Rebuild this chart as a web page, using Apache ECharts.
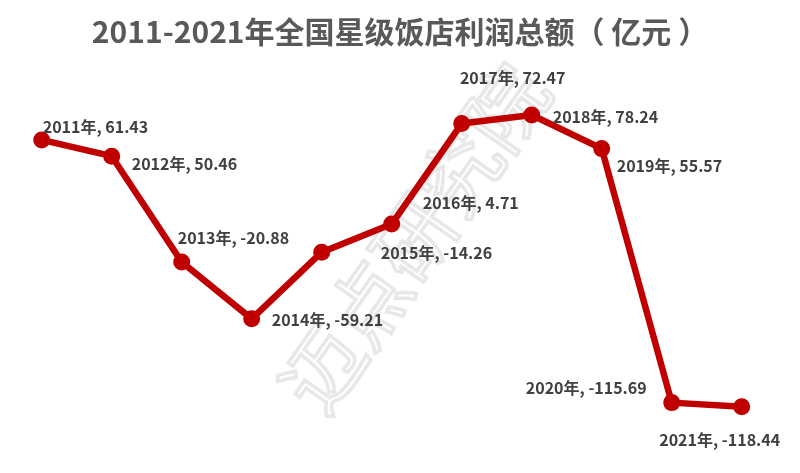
<!DOCTYPE html>
<html>
<head>
<meta charset="utf-8">
<script src="https://cdn.jsdelivr.net/npm/echarts@6/dist/echarts.min.js"></script>
<style>html,body{margin:0;padding:0;background:#fff;}#c{width:800px;height:473px;}</style>
</head>
<body>
<div id="c"></div>
<script>
const titleText = '2011-2021年全国星级饭店利润总额（ 亿元 ）';
const categories = ['2011年','2012年','2013年','2014年','2015年','2016年','2017年','2018年','2019年','2020年','2021年'];
const profits = [61.43, 50.46, -20.88, -59.21, -14.26, 4.71, 72.47, 78.24, 55.57, -115.69, -118.44];
// label placement: [align, dx, dy]
const labelPlacement = [
  ['left', 1, -13], ['left', 20, 8], ['left', -4, -24], ['left', 20, 1],
  ['left', 59, 1], ['left', 31, -21], ['center', 51, -46], ['left', 21, 2],
  ['left', 15, 17], ['right', -25, -15], ['center', -22, 33]
];

const chart = echarts.init(document.getElementById('c'), null, {renderer: 'canvas'});

chart.setOption({
  animation: false,
  backgroundColor: '#ffffff',
  title: {
    text: titleText,
    left: 'center',
    top: 12,
    textStyle: {
      fontFamily: 'Noto Sans CJK SC',
      fontSize: 30,
      fontWeight: 'bold',
      color: '#595959'
    }
  },
  graphic: [{
    type: 'text',
    x: 414, y: 238,
    rotation: 55 * Math.PI / 180,
    silent: true,
    z: -10,
    style: {
      text: '迈点研究院',
      fontFamily: 'Noto Sans CJK SC',
      fontSize: 80,
      fontWeight: 'normal',
      fill: 'rgba(0,0,0,0)',
      stroke: '#e8e8e8',
      lineWidth: 3.5,
      align: 'center',
      verticalAlign: 'middle'
    }
  }],
  grid: { left: 41.7, right: 58.3, top: 115, bottom: 66.3 },
  xAxis: {
    type: 'category',
    data: categories,
    boundaryGap: false,
    show: false
  },
  yAxis: {
    type: 'value',
    min: 'dataMin',
    max: 'dataMax',
    show: false,
    splitLine: { show: false }
  },
  series: [{
    type: 'line',
    data: profits,
    symbol: 'circle',
    symbolSize: 17,
    lineStyle: { color: '#C00000', width: 6.5 },
    itemStyle: { color: '#C00000' },
    label: {
      show: true,
      position: 'inside',
      verticalAlign: 'middle',
      formatter: p => p.name + ', ' + p.value,
      fontFamily: 'Noto Sans CJK SC',
      fontSize: 16,
      fontWeight: 'bold',
      color: '#404040'
    },
    labelLayout: function (params) {
      const p = labelPlacement[params.dataIndex];
      return { align: p[0], verticalAlign: 'middle', dx: p[1], dy: p[2], hideOverlap: false };
    }
  }]
});
</script>
</body>
</html>
